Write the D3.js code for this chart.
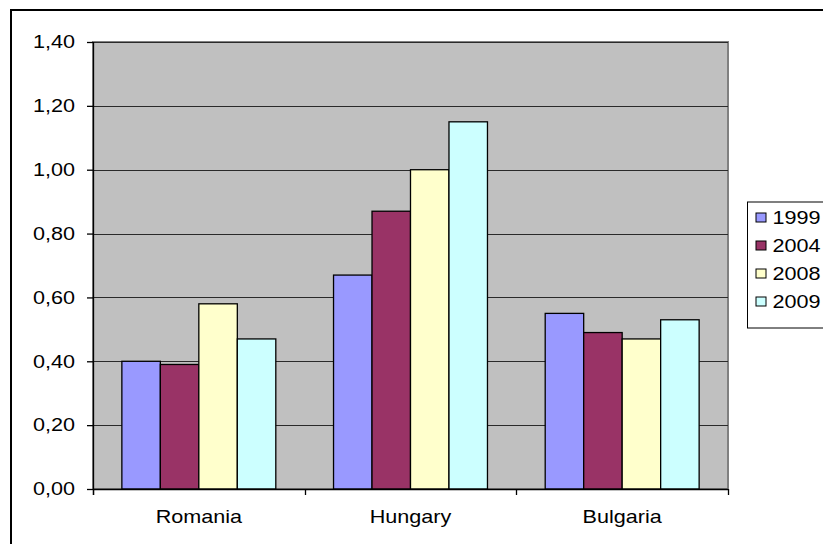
<!DOCTYPE html>
<html>
<head>
<meta charset="utf-8">
<script src="https://cdn.jsdelivr.net/npm/d3@7"></script>
<style>
  html, body { margin: 0; padding: 0; background: #fff; overflow: hidden; }
  svg { display: block; }
  text { font-family: "Liberation Sans", Arial, sans-serif; font-size: 18px; fill: #000; }
</style>
</head>
<body>
<svg id="chart" width="823" height="544"></svg>
<script>
const categories = ["Romania", "Hungary", "Bulgaria"];
const seriesNames = ["1999", "2004", "2008", "2009"];
const seriesColors = ["#9999FF", "#993366", "#FFFFCC", "#CCFFFF"];
const values1999 = [0.40, 0.67, 0.55];
const values2004 = [0.39, 0.87, 0.49];
const values2008 = [0.58, 1.00, 0.47];
const values2009 = [0.47, 1.15, 0.53];
const yTicks = [0, 0.2, 0.4, 0.6, 0.8, 1.0, 1.2, 1.4];

const seriesValues = [values1999, values2004, values2008, values2009];
const data = categories.map((c, i) => ({
  category: c,
  values: seriesNames.map((s, j) => ({ key: s, value: seriesValues[j][i], color: seriesColors[j] }))
}));

const svg = d3.select("#chart");
const SX = 1.2; // horizontal text stretch

const plot = { left: 93, right: 728, top: 42, bottom: 489 };

// outer chart border
svg.append("rect")
  .attr("x", 11).attr("y", 10).attr("width", 900).attr("height", 600)
  .attr("fill", "#fff").attr("stroke", "#000").attr("stroke-width", 2);

const x0 = d3.scaleBand().domain(categories).range([plot.left, plot.right]).padding(0);
const x1 = d3.scaleBand().domain(seriesNames).range([0, x0.bandwidth()]).paddingInner(0).paddingOuter(0.75);
const y = d3.scaleLinear().domain([0, 1.4]).range([plot.bottom, plot.top]);

// plot area
svg.append("rect")
  .attr("x", plot.left).attr("y", plot.top)
  .attr("width", plot.right - plot.left).attr("height", plot.bottom - plot.top)
  .attr("fill", "#C0C0C0").attr("stroke", "#808080").attr("stroke-width", 2);

// gridlines
svg.append("g").selectAll("line").data(yTicks.filter(d => d > 0)).join("line")
  .attr("x1", plot.left).attr("x2", plot.right)
  .attr("y1", d => Math.round(y(d)) + 0.5).attr("y2", d => Math.round(y(d)) + 0.5)
  .attr("stroke", "#2a2a2a").attr("stroke-width", 1);

// bars
const groups = svg.append("g").selectAll("g").data(data).join("g")
  .attr("transform", d => `translate(${x0(d.category)},0)`);
groups.selectAll("rect").data(d => d.values).join("rect")
  .attr("x", d => x1(d.key))
  .attr("y", d => y(d.value))
  .attr("width", x1.bandwidth())
  .attr("height", d => y(0) - y(d.value))
  .attr("fill", d => d.color)
  .attr("stroke", "#000").attr("stroke-width", 1.3);

// y axis
const fmt = d => d3.format(".2f")(d).replace(".", ",");
const yAxis = svg.append("g")
  .attr("transform", `translate(${plot.left},0)`)
  .call(d3.axisLeft(y).tickValues(yTicks).tickFormat(fmt).tickSize(6).tickPadding(12).tickSizeOuter(0));
yAxis.select(".domain").attr("stroke", "#000").attr("stroke-width", 1.3)
  .attr("d", `M0.5,${plot.top}V${plot.bottom + 6}`);
yAxis.selectAll(".tick line").attr("stroke", "#000").attr("stroke-width", 1.3);
yAxis.selectAll(".tick text")
  .attr("font-size", null)
  .attr("font-family", null)
  .attr("x", -18 / SX)
  .attr("transform", `scale(${SX},1)`);
yAxis.attr("font-size", null).attr("font-family", null);

// x axis
const xAxis = svg.append("g")
  .attr("transform", `translate(0,${plot.bottom})`)
  .call(d3.axisBottom(x0).tickSize(0).tickPadding(0));
xAxis.attr("font-size", null).attr("font-family", null);
xAxis.select(".domain").attr("stroke", "#000").attr("stroke-width", 1.3)
  .attr("d", `M${plot.left},0.5H${plot.right}`);
xAxis.selectAll(".tick text")
  .attr("y", 34).attr("dy", null)
  .attr("x", function(d) { return 0; })
  .attr("transform", `scale(${SX},1)`);
// category boundary ticks
const boundaries = categories.map(c => x0(c)).concat([plot.right]);
xAxis.append("g").selectAll("line").data(boundaries).join("line")
  .attr("x1", d => Math.round(d) + 0.5).attr("x2", d => Math.round(d) + 0.5)
  .attr("y1", 0).attr("y2", 6)
  .attr("stroke", "#000").attr("stroke-width", 1.3);

// legend
const legend = svg.append("g").attr("transform", "translate(747.5,202)");
legend.append("rect")
  .attr("x", 0).attr("y", 0).attr("width", 200).attr("height", 126)
  .attr("fill", "#fff").attr("stroke", "#000").attr("stroke-width", 1);
const ly = d3.scalePoint().domain(seriesNames).range([15.5, 99.5]);
const items = legend.selectAll("g.item").data(seriesNames.map((s, i) => ({ s, c: seriesColors[i] }))).join("g")
  .attr("class", "item")
  .attr("transform", d => `translate(0,${ly(d.s)})`);
items.append("rect")
  .attr("x", 8.5).attr("y", -4.5).attr("width", 10).attr("height", 9)
  .attr("fill", d => d.c).attr("stroke", "#000").attr("stroke-width", 1);
items.append("text")
  .attr("x", 25 / SX).attr("y", 0).attr("dy", "0.36em")
  .attr("transform", `scale(${SX},1)`)
  .text(d => d.s);
</script>
</body>
</html>
